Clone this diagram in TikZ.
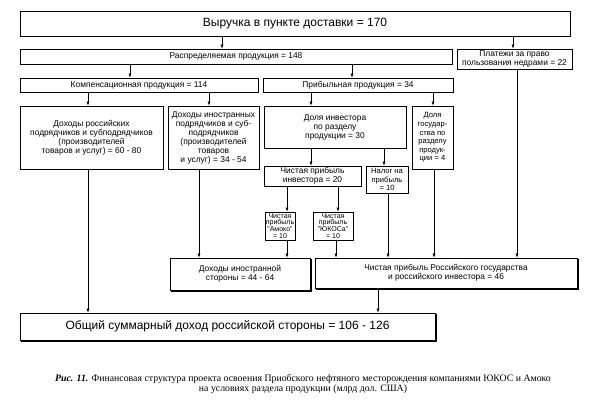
\documentclass[tikz,border=0pt]{standalone}
\usepackage{fontspec}
\setmainfont{Liberation Serif}
\setsansfont{Liberation Sans}
\usetikzlibrary{arrows.meta,shadows}

\tikzset{
  blk/.style={draw=black, fill=white, line width=0.65pt, inner sep=1pt, align=center,
    font=\sffamily\fontsize{8.4}{9}\selectfont},
  sblk/.style={blk, inner sep=0.5pt, font=\sffamily\fontsize{7.6}{8.6}\selectfont},
  tblk/.style={blk, inner sep=0.3pt, font=\sffamily\fontsize{7}{6.9}\selectfont},
  bigblk/.style={blk, font=\sffamily\fontsize{12}{13}\selectfont},
  shblk/.style={copy shadow={shadow xshift=1.2pt, shadow yshift=-1.2pt}},
  arr/.style={-{Latex[length=4pt,width=3pt]}, line width=0.55pt},
}

\begin{document}
\begin{tikzpicture}[x=1pt,y=-1pt]
\useasboundingbox (0,0) rectangle (600,415);
%top rows:
\node[bigblk, minimum width=550pt, minimum height=25pt] (rev) at (295,23.5) {Выручка в пункте доставки = 170};
\node[blk, minimum width=432pt, minimum height=15pt] (distr) at (236,56.5) {Распределяемая продукция = 148};
\node[blk, minimum width=115pt, minimum height=20pt] (fee) at (514.5,59) {Платежи за право\\пользования недрами = 22};
\node[blk, minimum width=238pt, minimum height=14pt] (comp) at (139,85) {Компенсационная продукция = 114};
\node[blk, minimum width=190pt, minimum height=14pt] (profit) at (358,85) {Прибыльная продукция = 34};
%middle:
\node[blk, minimum width=143pt, minimum height=63pt] (rusinc) at (91.5,137.5) {Доходы российских\\подрядчиков и субподрядчиков\\(производителей\\товаров и услуг) = 60 - 80};
\node[blk, minimum width=91pt, minimum height=63pt] (forinc) at (213.5,137.5) {Доходы иностранных\\подрядчиков и суб-\\подрядчиков\\(производителей\\товаров\\и услуг) = 34 - 54};
\node[blk, minimum width=142pt, minimum height=42pt] (invshare) at (335,127) {Доля инвестора\\по разделу\\продукции = 30};
\node[sblk, minimum width=41pt, minimum height=63pt] (stateshare) at (432.5,137.5) {Доля\\государ-\\ства по\\разделу\\продук-\\ции = 4};
\node[blk, minimum width=97pt, minimum height=20pt] (invnet) at (312.5,176) {Чистая прибыль\\инвестора = 20};
\node[sblk, minimum width=42pt, minimum height=27pt] (tax) at (387,179.5) {Налог на\\прибыль\\= 10};
\node[tblk, minimum width=30pt, minimum height=28pt] (amoco) at (280,226) {Чистая\\прибыль\\"Амоко"\\= 10};
\node[tblk, minimum width=40pt, minimum height=28pt] (yukos) at (333,226) {Чистая\\прибыль\\"ЮКОСа"\\= 10};
%bottom:
\node[blk, shblk, minimum width=140pt, minimum height=32pt] (forside) at (240,274) {Доходы иностранной\\стороны = 44 - 64};
\node[blk, shblk, minimum width=262pt, minimum height=30pt] (russide) at (446,273) {Чистая прибыль Российского государства\\и российского инвестора = 46};
\node[bigblk, shblk, minimum width=415pt, minimum height=27pt] (total) at (227.5,326.5) {Общий суммарный доход российской стороны = 106 - 126};
%arrows:
\draw[arr] (rev.south -| 222,0) -- (distr.north -| 222,0);
\draw[arr] (rev.south -| 513,0) -- (fee.north -| 513,0);
\draw[arr] (distr.south -| 130,0) -- (comp.north -| 130,0);
\draw[arr] (distr.south -| 352,0) -- (profit.north -| 352,0);
\draw[arr] (comp.south -| 88,0) -- (rusinc.north -| 88,0);
\draw[arr] (comp.south -| 209,0) -- (forinc.north -| 209,0);
\draw[arr] (profit.south -| 311,0) -- (invshare.north -| 311,0);
\draw[arr] (profit.south -| 433,0) -- (stateshare.north -| 433,0);
\draw[arr] (invshare.south -| 311,0) -- (invnet.north -| 311,0);
\draw[arr] (invshare.south -| 384,0) -- (tax.north -| 384,0);
\draw[arr] (invnet.south -| 287,0) -- (amoco.north -| 287,0);
\draw[arr] (invnet.south -| 338,0) -- (yukos.north -| 338,0);
\draw[arr] (rusinc.south -| 88,0) -- (total.north -| 88,0);
\draw[arr] (forinc.south -| 199,0) -- (forside.north -| 199,0);
\draw[arr] (amoco.south -| 287,0) -- (forside.north -| 287,0);
\draw[arr] (yukos.south -| 336,0) -- (russide.north -| 336,0);
\draw[arr] (tax.south -| 388,0) -- (russide.north -| 388,0);
\draw[arr] (stateshare.south -| 434,0) -- (russide.north -| 434,0);
\draw[arr] (fee.south -| 517,0) -- (russide.north -| 517,0);
\draw[arr] (russide.south -| 378,0) -- (total.north -| 378,0);
%caption:
\node[align=center, font=\fontsize{9.8}{10.5}\selectfont] (caption) at (303,384) {\textbf{\textit{Рис. 11.}} Финансовая структура проекта освоения Приобского нефтяного месторождения компаниями ЮКОС и Амоко\\на условиях раздела продукции (млрд дол. США)};
\end{tikzpicture}
\end{document}
